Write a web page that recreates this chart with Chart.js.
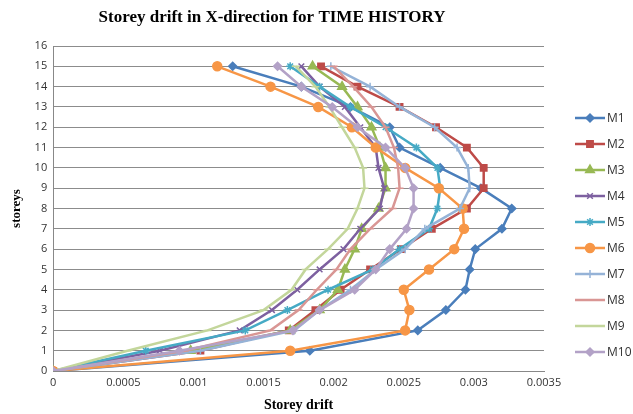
<!DOCTYPE html>
<html><head><meta charset="utf-8">
<script src="https://cdn.jsdelivr.net/npm/chart.js@4"></script>
<style>html,body{margin:0;padding:0;background:#fff}#wrap{width:633px;height:414px}</style>
</head><body><div id="wrap"><canvas id="c" width="633" height="414"></canvas></div>
<script>
const storeys = [0,1,2,3,4,5,6,7,8,9,10,11,12,13,14,15];
const xTicks = [0,0.0005,0.001,0.0015,0.002,0.0025,0.003,0.0035];
const seriesNames = ['M1','M2','M3','M4','M5','M6','M7','M8','M9','M10'];
const M1 = [0,0.00183,0.0026,0.0028,0.00294,0.00297,0.00301,0.0032,0.00327,0.00305,0.00276,0.00247,0.0024,0.00212,0.00177,0.00128];
const M2 = [0,0.00105,0.00168,0.00187,0.00205,0.00226,0.00248,0.0027,0.00295,0.00307,0.00307,0.00295,0.00273,0.00247,0.00217,0.00191];
const M3 = [0,0.00098,0.00169,0.0019,0.00203,0.00208,0.00215,0.0022,0.00232,0.00237,0.00237,0.00233,0.00227,0.00217,0.00206,0.00185];
const M4 = [0,0.00076,0.00133,0.00156,0.00174,0.0019,0.00207,0.00219,0.00233,0.00236,0.00232,0.0023,0.00219,0.00208,0.0019,0.00177];
const M5 = [0,0.00066,0.00137,0.00167,0.00196,0.00228,0.00247,0.00268,0.00274,0.00276,0.00274,0.00259,0.00237,0.00212,0.0019,0.00169];
const M6 = [0,0.00169,0.00251,0.00254,0.0025,0.00268,0.00286,0.00293,0.00292,0.00275,0.00251,0.0023,0.00213,0.00189,0.00155,0.00117];
const M7 = [0,0.00105,0.00172,0.0019,0.00212,0.0023,0.00251,0.00265,0.0029,0.00297,0.00296,0.00288,0.00272,0.00247,0.00226,0.00198];
const M8 = [0,0.00094,0.00155,0.00175,0.00188,0.00202,0.00212,0.00226,0.00242,0.00247,0.00246,0.00243,0.00237,0.00227,0.00214,0.002];
const M9 = [0,0.00053,0.0011,0.0015,0.0017,0.0018,0.00196,0.0021,0.00217,0.00222,0.00221,0.00215,0.00206,0.00197,0.00187,0.00173];
const M10 = [0,0.0009,0.00171,0.0019,0.00215,0.0023,0.0024,0.00252,0.00257,0.00257,0.00251,0.00237,0.00217,0.00199,0.00177,0.0016];
const seriesValues = [M1,M2,M3,M4,M5,M6,M7,M8,M9,M10];
const colors = ['#4A7EBB','#BE4B48','#98B954','#7D60A0','#46AAC5','#F79646','#95B3D7','#D99694','#C3D69B','#B3A2C7'];
const markers = ['rectRot','rect','triangle','crossRot','star','circle','cross','line','line','rectRot'];
const radii = [4,4.5,5,4,4,4.5,4,4,4,4];

const datasets = seriesValues.map((vals,i)=>({
  label: seriesNames[i],
  data: vals.map((v,j)=>({x:v,y:storeys[j]})),
  showLine: true,
  borderColor: colors[i],
  backgroundColor: colors[i],
  borderWidth: 2.5,
  pointStyle: markers[i],
  pointRadius: radii[i],
  pointBorderWidth: 1.5,
  order: 10 - i
}));

const legendPlugin = {
  id:'customLegend',
  afterDraw(chart){
    const ctx = chart.ctx;
    ctx.save();
    const x0 = 575, y0 = 118, step = 26;
    chart.data.datasets.forEach((ds,i)=>{
      const y = y0 + i*step;
      ctx.strokeStyle = ds.borderColor; ctx.lineWidth = 2.5;
      ctx.beginPath(); ctx.moveTo(x0,y); ctx.lineTo(x0+30,y); ctx.stroke();
      ctx.fillStyle = ds.borderColor;
      ctx.lineWidth = 1.5;
      Chart.helpers.drawPoint(ctx,{pointStyle:ds.pointStyle,radius:ds.pointRadius,borderWidth:1.5,rotation:0},x0+15,y);
      ctx.fillStyle = '#333';
      ctx.font = '12px "Open Sans"';
      ctx.textBaseline = 'middle';
      ctx.fillText(ds.label, x0+32, y+1);
    });
    ctx.restore();
  }
};
const titlePlugin = {
  id:'customTitle',
  afterDraw(chart){
    const ctx = chart.ctx;
    ctx.save();
    ctx.font = 'bold 17px "Liberation Serif"';
    ctx.fillStyle = '#000';
    ctx.textAlign = 'center';
    ctx.textBaseline = 'middle';
    ctx.fillText('Storey drift in X-direction for TIME HISTORY', 272, 18);
    ctx.restore();
  }
};

new Chart(document.getElementById('c'),{
  type:'scatter',
  data:{datasets},
  options:{
    responsive:false,
    animation:false,
    layout:{padding:{top:46,right:89,left:9,bottom:0}},
    plugins:{legend:{display:false},tooltip:{enabled:false}},
    scales:{
      x:{
        type:'linear', min:0, max:0.0035,
        afterBuildTicks(axis){ axis.ticks = xTicks.map(v=>({value:v})); },
        ticks:{font:{family:'Open Sans',size:11},color:'#333',callback:(v)=>String(v),maxRotation:0,padding:5},
        grid:{display:false,drawTicks:false},
        border:{display:true,color:'#888'},
        title:{display:true,text:'Storey drift',font:{family:'Liberation Serif',weight:'bold',size:14},color:'#000',padding:{top:3,bottom:0}}
      },
      y:{
        type:'linear', min:0, max:16,
        ticks:{stepSize:1,font:{family:'Open Sans',size:11},color:'#333',padding:6},
        grid:{color:'#8c8c8c',lineWidth:1,drawTicks:false},
        border:{display:true,color:'#888'},
        title:{display:true,text:'storeys',font:{family:'Liberation Serif',weight:'bold',size:13},color:'#000',padding:{top:0,bottom:4}}
      }
    }
  },
  plugins:[legendPlugin,titlePlugin]
});
</script></body></html>
